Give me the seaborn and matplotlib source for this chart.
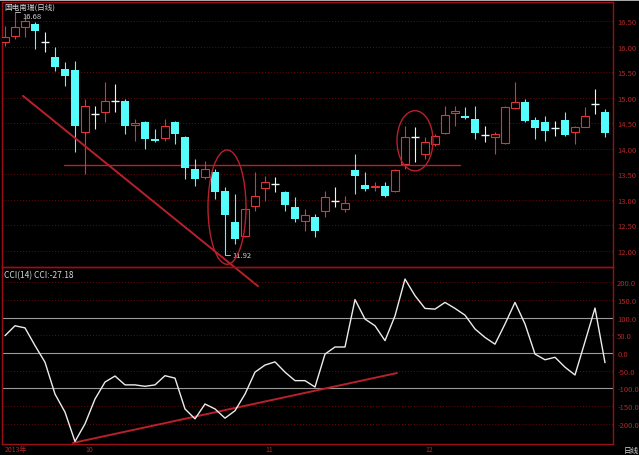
## Candlestick + CCI(14) chart, 国电南瑞 daily, late 2013
import numpy as np
import pandas as pd
import matplotlib
matplotlib.use("Agg")
import matplotlib.pyplot as plt
from matplotlib.patches import Ellipse
import seaborn as sns

## Daily prices
opens = [16.10, 16.22, 16.39, 16.45, 16.10, 15.80, 15.57, 15.55, 14.33, 14.69,
         14.73, 14.94, 14.94, 14.47, 14.53, 14.19, 14.22, 14.53, 14.24, 13.61,
         13.45, 13.55, 13.18, 12.57, 12.29, 12.88, 13.24, 13.31, 13.16, 12.86,
         12.59, 12.67, 12.78, 12.98, 12.82, 13.59, 13.29, 13.26, 13.27, 13.18,
         13.71, 14.24, 13.90, 14.10, 14.31, 14.71, 14.65, 14.59, 14.27, 14.24,
         14.12, 14.80, 14.92, 14.57, 14.53, 14.41, 14.57, 14.33, 14.43, 14.88,
         14.73]
highs = [16.41, 16.68, 16.57, 16.49, 16.29, 16.00, 15.71, 15.73, 14.98, 14.84,
         15.31, 15.27, 14.98, 14.59, 14.55, 14.39, 14.59, 14.55, 14.25, 13.80,
         13.76, 13.61, 13.25, 13.12, 12.84, 13.55, 13.47, 13.45, 13.18, 13.06,
         12.82, 12.73, 13.18, 13.25, 13.08, 13.90, 13.55, 13.35, 13.35, 13.61,
         14.45, 14.43, 14.24, 14.29, 14.84, 14.84, 14.82, 14.84, 14.45, 14.33,
         14.84, 15.31, 14.98, 14.63, 14.65, 14.55, 14.73, 14.45, 14.82, 15.18,
         14.78]
lows = [16.02, 16.16, 16.20, 15.96, 15.90, 15.53, 15.24, 13.94, 13.50, 14.39,
        14.53, 14.73, 14.29, 14.16, 14.00, 14.14, 14.16, 14.10, 13.41, 13.27,
        13.41, 13.02, 11.92, 12.14, 12.27, 12.78, 12.98, 13.16, 12.78, 12.57,
        12.39, 12.27, 12.67, 12.86, 12.76, 13.12, 13.18, 13.18, 13.06, 13.16,
        13.61, 13.75, 13.80, 14.06, 14.29, 14.45, 14.59, 14.20, 14.14, 13.90,
        14.10, 14.78, 14.53, 14.20, 14.16, 14.25, 14.25, 14.10, 14.43, 14.69,
        14.24]
closes = [16.20, 16.39, 16.51, 16.31, 16.10, 15.61, 15.43, 14.45, 14.84, 14.69,
          14.94, 14.94, 14.45, 14.50, 14.20, 14.16, 14.45, 14.29, 13.63, 13.41,
          13.61, 13.16, 12.71, 12.24, 12.82, 13.08, 13.35, 13.31, 12.90, 12.63,
          12.71, 12.39, 13.06, 12.98, 12.94, 13.47, 13.22, 13.28, 13.08, 13.59,
          14.24, 14.24, 14.14, 14.25, 14.67, 14.74, 14.61, 14.31, 14.27, 14.29,
          14.82, 14.92, 14.55, 14.41, 14.35, 14.41, 14.27, 14.43, 14.65, 14.88,
          14.31]

## CCI(14) line
cci = [49, 77, 71, 21, -26, -116, -167, -250, -200, -130,
       -82, -65, -90, -90, -94, -90, -64, -71, -158, -186,
       -144, -158, -184, -163, -116, -54, -34, -25, -54, -78,
       -78, -96, -3, 17, 17, 151, 96, 77, 35, 105,
       209, 162, 126, 124, 143, 126, 107, 68, 44, 25,
       82, 143, 82, -3, -19, -12, -40, -62, 32, 127,
       -27.18]

month_pos = [0, 8, 26, 42]
month_labels = ["2013年", "10", "11", "12"]
price_ticks = [12.0, 12.5, 13.0, 13.5, 14.0, 14.5, 15.0, 15.5, 16.0, 16.5]
cci_ticks = [-200, -150, -100, -50, 0, 50, 100, 150, 200]

## hand drawn marks on the original chart
trend_down = ([1.8, 25.3], [15.04, 11.31])
support_x = [5.9, 45.5]
support_y = 13.69
cci_trend = ([6.8, 39.2], [-254, -56.5])

sns.set_theme(style="dark")
plt.rcParams['font.family'] = ['Noto Sans CJK SC', 'DejaVu Sans']

RED = "#e03438"
CYAN = "#54fcfc"
GRIDRED = "#6a0a0a"
BORDER = "#9a1018"
LABEL = "#b02828"

df = pd.DataFrame({"o": opens, "h": highs, "l": lows, "c": closes, "cci": cci})
df["i"] = np.arange(len(df))

fig = plt.figure(figsize=(6.39, 4.56), dpi=100, facecolor="black")
ax = fig.add_axes([2/639, 1-268/456, 611/639, 265/456])
ax2 = fig.add_axes([2/639, 1-445/456, 611/639, 177/456])

for a in (ax, ax2):
    a.set_facecolor("none")
    for s in a.spines.values():
        s.set_color(BORDER)
        s.set_linewidth(1.0)
    a.yaxis.tick_right()
    a.tick_params(axis="y", colors=LABEL, labelsize=5.5, length=0, pad=3)
    a.set_xlim(-0.3, 60.8)
    a.grid(False)

## price grid
for p in price_ticks:
    ax.axhline(p, color=GRIDRED, lw=0.7, ls=(0, (1, 2)), zorder=0)

## candles
w = 0.72
for r in df.itertuples():
    lo_b, hi_b = min(r.o, r.c), max(r.o, r.c)
    if r.c > r.o:
        ax.vlines(r.i, r.l, lo_b, color=RED, lw=0.8, zorder=2)
        ax.vlines(r.i, hi_b, r.h, color=RED, lw=0.8, zorder=2)
        ax.bar(r.i, hi_b - lo_b, bottom=lo_b, width=w, facecolor="black",
               edgecolor=RED, lw=0.8, zorder=3)
    elif r.c < r.o:
        ax.vlines(r.i, r.l, r.h, color=CYAN, lw=0.8, zorder=2)
        ax.bar(r.i, hi_b - lo_b, bottom=lo_b, width=w, color=CYAN,
               lw=0, zorder=3)
    else:
        ax.vlines(r.i, r.l, r.h, color="#e8f8f8", lw=0.8, zorder=2)
        ax.hlines(r.o, r.i - w/2, r.i + w/2, color="#e8f8f8", lw=1.0, zorder=3)

ax.set_ylim(11.686, 16.88)
ax.set_yticks(price_ticks)
ax.set_yticklabels([f"{p:.2f}" for p in price_ticks])
ax.set_xticks([])

## high / low markers
hi_i = int(np.argmax(highs))
lo_i = int(np.argmin(lows))
ax.plot([hi_i, hi_i + 0.5], [highs[hi_i], highs[hi_i]], color="#d0d0d0", lw=0.6)
ax.text(hi_i + 0.7, highs[hi_i], f"{highs[hi_i]:.2f}", color="#d0d0d0",
        fontsize=5.5, va="top", ha="left")
ax.plot([lo_i, lo_i + 0.5], [lows[lo_i], lows[lo_i]], color="#d0d0d0", lw=0.6)
ax.text(lo_i + 0.7, lows[lo_i], f"{lows[lo_i]:.2f}", color="#d0d0d0",
        fontsize=5.5, va="center", ha="left")

## drawn lines and circles
ax.plot(*trend_down, color="#b8202c", lw=1.4, clip_on=False, zorder=4)
ax.plot(support_x, [support_y, support_y], color="#b8202c", lw=1.0, zorder=1)
ax.add_patch(Ellipse((22.2, 12.86), 3.8, 2.24, fill=False, ec="#b8202c", lw=1.0, zorder=4))
ax.add_patch(Ellipse((41.0, 14.16), 3.6, 1.18, fill=False, ec="#b8202c", lw=1.0, zorder=4))

ax.text(0.003, 0.997, "国电南瑞(日线)", transform=ax.transAxes, color="#d8d8d8",
        fontsize=5.5, va="top", ha="left")

## CCI panel
for v in cci_ticks:
    if v in (100, 0, -100):
        ax2.axhline(v, color="#9a9a9a", lw=0.8, zorder=0)
    else:
        ax2.axhline(v, color=GRIDRED, lw=0.7, ls=(0, (1, 2)), zorder=0)

sns.lineplot(data=df, x="i", y="cci", ax=ax2, color="#ececec", lw=1.0, zorder=3)
ax2.plot(*cci_trend, color="#b8202c", lw=1.4, zorder=2)

ax2.set_ylim(-257, 243)
ax2.set_yticks(cci_ticks)
ax2.set_yticklabels([f"{v:.1f}" for v in cci_ticks])
ax2.set_xlabel("")
ax2.set_ylabel("")
ax2.set_xticks(month_pos)
ax2.set_xticklabels(month_labels, ha="left")
ax2.tick_params(axis="x", colors=LABEL, labelsize=5, length=0, pad=0.5)
ax2.text(0.003, 0.985, "CCI(14) CCI:-27.18", transform=ax2.transAxes,
         color="#d8d8d8", fontsize=6, va="top", ha="left")

fig.text(0.976, 0.003, "日线", color="#d8d8d8", fontsize=5.5, ha="left", va="bottom")
fig.add_artist(plt.Line2D([0, 1], [0.998, 0.998], color="#c8c8c8", lw=1.2))

fig.savefig("out.png", dpi=100, facecolor="black")
